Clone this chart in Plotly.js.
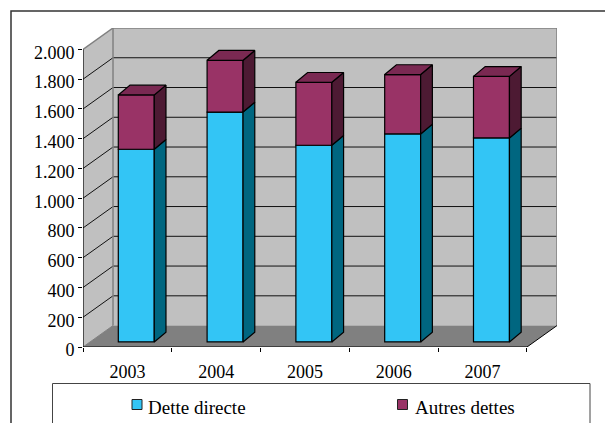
<!DOCTYPE html>
<html>
<head>
<meta charset="utf-8">
<script src="https://cdn.plot.ly/plotly-3.0.1.min.js"></script>
<style>html,body{margin:0;padding:0;background:#fff;overflow:hidden}#chart{width:605px;height:423px}</style>
</head>
<body>
<div id="chart"></div>
<script>
// Dette par année (empilée), en pseudo-perspective
const categories = ['2003', '2004', '2005', '2006', '2007'];
const detteDirecte = [1295, 1545, 1322, 1398, 1371];
const autresDettes = [365, 348, 423, 399, 414];
const yTickValues = [0, 200, 400, 600, 800, 1000, 1200, 1400, 1600, 1800, 2000];
const yTickLabels = ['0', '200', '400', '600', '800', '1.000', '1.200', '1.400', '1.600', '1.800', '2.000'];
const seriesNames = ['Dette directe', 'Autres dettes'];

const colors = {
  wall: '#C0C0C0', floor: '#808080', edge: '#808080', grid: '#111111',
  blue: '#33C5F5', blueSide: '#006680',
  purple: '#993366', purpleSide: '#4D1A33', purpleTop: '#7A2952'
};

// Plot frame in page pixels, used to place the frame and the legend box
const W = 605, H = 423, L = 83, R = 48, T = 28, B = 76;
const paperX = px => (px - L) / (W - L - R);
const paperY = py => (H - B - py) / (H - B - T);

// Perspective offsets, in axis units
const wallDX = 0.338, wallDY = 144;
const barShiftX = 0.10, barBase = 34, barWidth = 0.405;
const barDX = 0.132, barDY = 66;

const xPos = categories.map((_, i) => i);
const xCenter = xPos.map(i => i + barShiftX);
const blueTop = detteDirecte.map(v => v + barBase);
const stackTop = detteDirecte.map((v, i) => v + autresDettes[i] + barBase);

function sideFaces(lower, upper) {
  const xs = [], ys = [];
  xCenter.forEach((c, i) => {
    const r = c + barWidth / 2;
    xs.push(r, r + barDX, r + barDX, r, r, null);
    ys.push(lower[i], lower[i] + barDY, upper[i] + barDY, upper[i], lower[i], null);
  });
  return {xs, ys};
}
function topFaces(level) {
  const xs = [], ys = [];
  xCenter.forEach((c, i) => {
    const l = c - barWidth / 2, r = c + barWidth / 2;
    xs.push(l, r, r + barDX, l + barDX, l, null);
    ys.push(level[i], level[i], level[i] + barDY, level[i] + barDY, level[i], null);
  });
  return {xs, ys};
}
const polygon = (face, fill, name) => ({
  type: 'scatter', mode: 'lines', x: face.xs, y: face.ys, fill: 'toself', fillcolor: fill,
  line: {color: '#000', width: 1.2}, hoverinfo: 'skip', showlegend: false, name
});

const blueSide = sideFaces(detteDirecte.map(() => barBase), blueTop);
const purpleSide = sideFaces(blueTop, stackTop);
const purpleTop = topFaces(stackTop);

const traces = [
  {type: 'bar', name: seriesNames[0], x: xCenter, y: detteDirecte, base: xPos.map(() => barBase), width: barWidth,
   marker: {color: colors.blue, line: {color: '#000', width: 1.2}}, customdata: categories, showlegend: false},
  {type: 'bar', name: seriesNames[1], x: xCenter, y: autresDettes, base: blueTop, width: barWidth,
   marker: {color: colors.purple, line: {color: '#000', width: 1.2}}, customdata: categories, showlegend: false},
  polygon(blueSide, colors.blueSide, 'side-1'),
  polygon(purpleSide, colors.purpleSide, 'side-2'),
  polygon(purpleTop, colors.purpleTop, 'top')
];

const xLeft = -0.5, xRight = 4.5, yMax = 2000;
const dataShape = (path, fill, color, width) => ({
  type: 'path', path, xref: 'x', yref: 'y', layer: 'below', fillcolor: fill || 'rgba(0,0,0,0)',
  line: {color: color || 'rgba(0,0,0,0)', width: width || 0}
});
const seg = (x0, y0, x1, y1, color, width) => ({
  type: 'line', x0, y0, x1, y1, xref: 'x', yref: 'y', layer: 'below', line: {color, width}
});
const backL = xLeft + wallDX, backR = xRight + wallDX;

const shapes = [
  // back wall, side wall, floor
  dataShape(`M${backL},${wallDY}L${backR},${wallDY}L${backR},${yMax + wallDY}L${backL},${yMax + wallDY}Z`, colors.wall),
  dataShape(`M${xLeft},0L${backL},${wallDY}L${backL},${yMax + wallDY}L${xLeft},${yMax}Z`, colors.wall),
  dataShape(`M${xLeft},0L${xRight},0L${backR},${wallDY}L${backL},${wallDY}Z`, colors.floor)
];
// gridlines run along the side wall and across the back wall
yTickValues.filter(v => v > 0 && v < yMax).forEach(v => {
  shapes.push(seg(xLeft, v, backL, v + wallDY, colors.grid, 1));
  shapes.push(seg(backL, v + wallDY, backR, v + wallDY, colors.grid, 1));
});
shapes.push(
  seg(backL, wallDY, backL, yMax + wallDY, colors.edge, 1.5),
  seg(backR, wallDY, backR, yMax + wallDY, colors.edge, 1.5),
  seg(backL, yMax + wallDY, backR, yMax + wallDY, colors.edge, 1.5),
  seg(xLeft, yMax, backL, yMax + wallDY, colors.edge, 1.5),
  seg(xLeft, 0, backL, wallDY, colors.edge, 1),
  seg(xRight, 0, backR, wallDY, '#000', 1),
  seg(xLeft, 0, xLeft, yMax, '#000', 1.2),
  seg(xLeft, 0, xRight, 0, '#000', 1.2)
);

// outer frame and legend box run off the bottom and right of the page
const box = (x0, y0, x1, y1, color, width, fill) => ({
  type: 'rect', xref: 'paper', yref: 'paper', layer: 'above',
  x0: paperX(x0), x1: paperX(x1), y0: paperY(y0), y1: paperY(y1),
  line: {color, width}, fillcolor: fill || 'rgba(0,0,0,0)'
});
shapes.push(
  box(11, 11, 620, 440, '#333333', 1.5),
  box(52.5, 383.5, 590, 440, '#444444', 1, '#FFFFFF'),
  box(132, 399.5, 142, 409.5, '#222222', 1, colors.blue),
  box(397.5, 399.5, 407.5, 409.5, '#222222', 1, colors.purple)
);

const serif = 'Liberation Serif';
const legendLabel = (text, px) => ({
  text, xref: 'paper', yref: 'paper', x: paperX(px), y: paperY(407), xanchor: 'left', yanchor: 'middle',
  showarrow: false, font: {family: serif, size: 19, color: '#000'}, borderpad: 0
});

const layout = {
  width: W, height: H, margin: {l: L, r: R, t: T, b: B},
  paper_bgcolor: '#fff', plot_bgcolor: 'rgba(0,0,0,0)',
  barmode: 'overlay', showlegend: false, hovermode: false,
  font: {family: serif, size: 18, color: '#000'},
  xaxis: {
    type: 'linear', range: [xLeft, xRight + wallDX], fixedrange: true, showgrid: false, zeroline: false, showline: false,
    tickmode: 'array', tickvals: xPos, ticktext: categories,
    ticks: 'outside', ticklen: 8, tickcolor: 'rgba(0,0,0,0)', tickfont: {family: serif, size: 18, color: '#000'},
    minor: {tickmode: 'array', tickvals: [-0.5, 0.5, 1.5, 2.5, 3.5, 4.5], ticks: 'outside', ticklen: 4, tickwidth: 1, tickcolor: '#000', showgrid: false}
  },
  yaxis: {
    type: 'linear', range: [0, yMax + wallDY], fixedrange: true, showgrid: false, zeroline: false, showline: false,
    tickmode: 'array', tickvals: yTickValues, ticktext: yTickLabels,
    ticks: 'outside', ticklen: 4, tickwidth: 1, tickcolor: '#000', tickfont: {family: serif, size: 18, color: '#000'},
    ticklabelshift: 3
  },
  shapes,
  annotations: [legendLabel(seriesNames[0], 146.5), legendLabel(seriesNames[1], 413.5)]
};

Plotly.newPlot('chart', traces, layout, {displayModeBar: false, staticPlot: true});
</script>
</body>
</html>
